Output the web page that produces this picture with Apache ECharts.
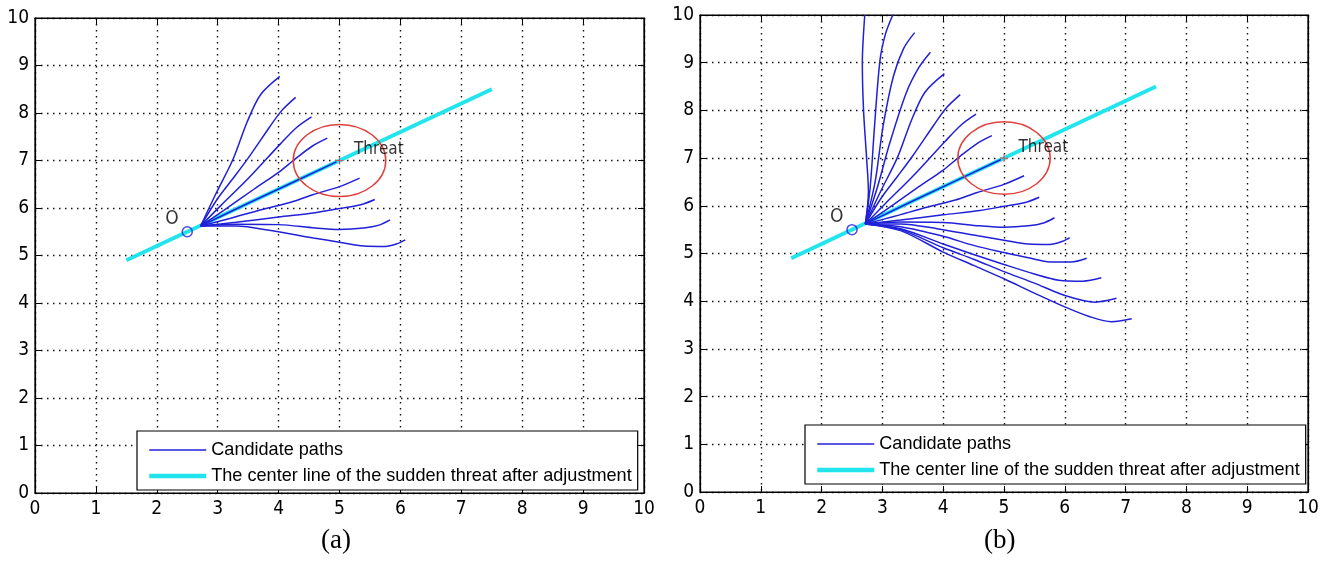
<!DOCTYPE html>
<html>
<head>
<meta charset="utf-8">
<title>Candidate paths</title>
<script src="https://cdn.jsdelivr.net/npm/echarts@6.0.0/dist/echarts.min.js"></script>
<style>
html, body { margin: 0; padding: 0; background: #fff; }
#chart { width: 1327px; height: 561px; }
</style>
</head>
<body>
<div id="chart"></div>
<script>
// axis range (both panels)
var axisMin = 0
var axisMax = 10
var axisStep = 1

var pointO = [2.5, 5.5]
var threatCenter = [5, 7]
var threatRadius = 0.76
var centerLine = [[1.5, 4.9], [7.5, 8.5]]

var seriesNames = ['Candidate paths', 'The center line of the sudden threat after adjustment']
var panelNames = ['(a)', '(b)']

// candidate paths
var pathU1 = [[2.72, 5.62], [2.77, 6.3], [2.74, 7.0], [2.69, 8.0], [2.67, 9.0], [2.71, 10.0]]
var pathU2 = [[2.72, 5.62], [2.8, 6.4], [2.87, 7.66], [2.96, 9.05], [3.05, 9.6], [3.17, 10.0]]
var pathU3 = [[2.72, 5.62], [2.88, 6.5], [3.01, 7.66], [3.18, 8.71], [3.35, 9.3], [3.53, 9.63]]
var pathU4 = [[2.72, 5.62], [2.92, 6.4], [3.12, 7.31], [3.39, 8.36], [3.6, 8.9], [3.79, 9.22]]
var pathU5 = [[2.72, 5.62], [2.97, 6.3], [3.25, 7.02], [3.48, 7.8], [3.7, 8.38], [4.02, 8.77]]
var pathU6 = [[2.72, 5.62], [3.0, 6.2], [3.25, 6.62], [3.5, 7.05], [3.85, 7.7], [4.05, 8.05], [4.28, 8.33]]
var pathU7 = [[2.72, 5.62], [3.05, 6.05], [3.5, 6.62], [4.03, 7.35], [4.3, 7.7], [4.54, 7.92]]
var pathU8 = [[2.72, 5.62], [3.1, 5.95], [3.6, 6.4], [4.0, 6.75], [4.28, 7.04], [4.55, 7.3], [4.8, 7.47]]
var pathMid = [[2.72, 5.62], [3.5, 6.1], [4.3, 6.58], [4.95, 6.97]]
var pathL1 = [[2.72, 5.62], [3.2, 5.78], [3.73, 5.97], [4.2, 6.12], [4.56, 6.28], [5.0, 6.45], [5.33, 6.63]]
var pathL2 = [[2.72, 5.62], [3.3, 5.7], [4.0, 5.81], [4.6, 5.9], [5.0, 5.99], [5.35, 6.07], [5.58, 6.18]]
var pathL3 = [[2.72, 5.62], [3.3, 5.66], [4.0, 5.65], [4.6, 5.58], [5.0, 5.55], [5.4, 5.58], [5.65, 5.64], [5.83, 5.75]]
var pathL4 = [[2.72, 5.62], [3.3, 5.62], [3.9, 5.52], [4.57, 5.37], [5.0, 5.28], [5.4, 5.2], [5.75, 5.19], [5.95, 5.25], [6.08, 5.33]]
var pathL5 = [[2.72, 5.62], [3.3, 5.56], [4.0, 5.36], [4.5, 5.17], [5.0, 5.02], [5.4, 4.91], [5.8, 4.82], [6.1, 4.82], [6.36, 4.9]]
var pathL6 = [[2.72, 5.62], [3.3, 5.52], [4.0, 5.2], [4.5, 4.98], [5.0, 4.77], [5.5, 4.57], [5.9, 4.44], [6.3, 4.42], [6.6, 4.49]]
var pathL7 = [[2.72, 5.62], [3.3, 5.5], [4.0, 5.12], [4.5, 4.88], [5.0, 4.62], [5.5, 4.38], [6.0, 4.12], [6.5, 3.98], [6.85, 4.06]]
var pathL8 = [[2.72, 5.62], [3.3, 5.48], [4.0, 5.03], [4.5, 4.75], [5.0, 4.47], [5.5, 4.17], [6.0, 3.88], [6.4, 3.68], [6.77, 3.57], [7.1, 3.63]]

var pathsA = [pathU5, pathU6, pathU7, pathU8, pathL1, pathL2, pathL3, pathL4]
var pathsB = [pathU1, pathU2, pathU3, pathU4, pathU5, pathU6, pathU7, pathU8,
  pathL1, pathL2, pathL3, pathL4, pathL5, pathL6, pathL7, pathL8]

var blue = '#2020d8'
var cyan = '#22e4ec'
var red = '#e0403c'
var font = 'Liberation Sans, Arial, sans-serif'
var tickFont = '"Liberation Sans Narrow", "DejaVu Sans Condensed", Arial, sans-serif'

var grids = [
  { left: 35, top: 18, width: 609, height: 475 },
  { left: 700, top: 15, width: 608, height: 477 }
]
var legendPos = [{ left: 137, top: 431 }, { left: 805, top: 425 }]
var labelX = [337, 1000]

var chart = echarts.init(document.getElementById('chart'))

var xAxes = [], yAxes = [], series = [], legends = [], graphics = []

function mainAxis(gi, pos, isX) {
  return {
    type: 'value', gridIndex: gi, position: pos,
    min: axisMin, max: axisMax, interval: axisStep,
    axisLine: { show: true, onZero: false, lineStyle: { color: '#000', width: 1.2 } },
    axisTick: { show: true, inside: true, length: 6, lineStyle: { color: '#000' } },
    axisLabel: { show: true, color: '#000', fontSize: 19, fontFamily: tickFont, margin: isX ? 7 : 6 },
    splitLine: { show: true, lineStyle: { color: '#111', width: 1.4, type: [1.5, 4.5] } }
  }
}
function sideAxis(gi, pos) {
  return {
    type: 'value', gridIndex: gi, position: pos,
    min: axisMin, max: axisMax, interval: axisStep,
    axisLine: { show: true, onZero: false, lineStyle: { color: '#000', width: 1.2 } },
    axisTick: { show: true, inside: true, length: 6, lineStyle: { color: '#000' } },
    axisLabel: { show: false },
    splitLine: { show: false }
  }
}

function addPanel(gi, paths) {
  var xi = gi * 2, yi = gi * 2
  xAxes.push(mainAxis(gi, 'bottom', true), sideAxis(gi, 'top'))
  yAxes.push(mainAxis(gi, 'left', false), sideAxis(gi, 'right'))

  paths.forEach(function (p) {
    series.push({
      type: 'line', name: seriesNames[0], data: p,
      xAxisIndex: xi, yAxisIndex: yi,
      symbol: 'none', smooth: 0.3, silent: true, z: 3,
      lineStyle: { color: blue, width: 1.5 }, itemStyle: { color: blue }
    })
  })
  series.push({
    type: 'line', name: seriesNames[1], data: centerLine,
    xAxisIndex: xi, yAxisIndex: yi,
    symbol: 'none', silent: true, z: 2,
    lineStyle: { color: cyan, width: 3.8 }, itemStyle: { color: cyan }
  })
  // path that runs along the centre line, drawn over the cyan
  series.push({
    type: 'line', name: seriesNames[0], data: pathMid,
    xAxisIndex: xi, yAxisIndex: yi,
    symbol: 'none', silent: true, z: 4,
    lineStyle: { color: blue, width: 1.5 }, itemStyle: { color: blue }
  })
  // threat circle
  series.push({
    type: 'custom', xAxisIndex: xi, yAxisIndex: yi, silent: true, z: 5,
    data: [[threatCenter[0], threatCenter[1], threatRadius]],
    renderItem: function (params, api) {
      var c = api.coord([api.value(0), api.value(1)])
      var s = api.size([api.value(2), api.value(2)])
      return {
        type: 'ellipse',
        shape: { cx: c[0], cy: c[1], rx: s[0], ry: s[1] },
        style: { fill: 'none', stroke: red, lineWidth: 1.5 }
      }
    }
  })
  // threat centre mark + label
  series.push({
    type: 'scatter', xAxisIndex: xi, yAxisIndex: yi, silent: true, z: 6,
    data: [threatCenter],
    symbol: 'path://M0,-1L0,1M-1,0L1,0', symbolSize: 8,
    itemStyle: { color: 'none', borderColor: red, borderWidth: 1 },
    label: {
      show: true, formatter: 'Threat', position: 'right', offset: [3, -11],
      color: '#000', fontSize: 17, fontFamily: tickFont
    }
  })
  // start point O
  series.push({
    type: 'scatter', xAxisIndex: xi, yAxisIndex: yi, silent: true, z: 6,
    data: [pointO],
    symbol: 'circle', symbolSize: 10,
    itemStyle: { color: 'none', borderColor: blue, borderWidth: 1.5 },
    label: {
      show: true, formatter: 'O', position: 'left', offset: [4, -13],
      color: '#000', fontSize: 19, fontFamily: tickFont
    }
  })

  legends.push({
    left: legendPos[gi].left, top: legendPos[gi].top,
    orient: 'vertical', selectedMode: false,
    data: [
      { name: seriesNames[0], lineStyle: { width: 1.6 } },
      { name: seriesNames[1], lineStyle: { width: 4.5 } }
    ],
    backgroundColor: '#fff', borderColor: '#000', borderWidth: 1.2, borderRadius: 0,
    padding: [10, 6, 5, 10], itemGap: 8, itemWidth: 57, itemHeight: 14,
    itemStyle: { opacity: 0 },
    textStyle: { color: '#000', fontSize: 18.1, fontFamily: font }
  })
  graphics.push({
    type: 'text', left: labelX[gi] - 16, top: 527,
    style: { text: panelNames[gi], fill: '#000', font: '27px "Liberation Serif", "Times New Roman", serif' }
  })
}

addPanel(0, pathsA)
addPanel(1, pathsB)

chart.setOption({
  animation: false,
  backgroundColor: '#fff',
  grid: grids.map(function (g) {
    return Object.assign({ show: true, borderColor: '#000', borderWidth: 1.2, backgroundColor: '#fff' }, g)
  }),
  xAxis: xAxes,
  yAxis: yAxes,
  legend: legends,
  graphic: graphics,
  series: series
})
</script>
</body>
</html>
